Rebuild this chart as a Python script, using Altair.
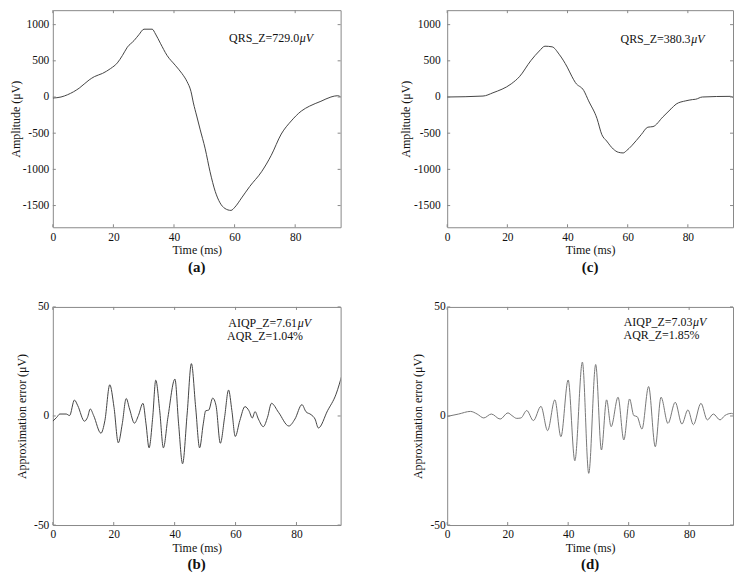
import altair as alt
import pandas as pd

FONT = "Liberation Serif"
BOX = "#888888"
INK = "#111111"

# ---------------- data ----------------
x_ticks = [0, 20, 40, 60, 80]
amp_ticks = [1000, 500, 0, -500, -1000, -1500]
err_ticks = [50, 0, -50]

# (a) QRS, lead Z
a_t = [0, 2.7, 4.9, 8.7, 12.0, 13.7, 16.4, 19.1, 21.3, 23.0, 24.6, 26.8, 28.4, 30.1,
       32.8, 33.9, 35.5, 37.7, 40.4, 42.6, 44.3, 45.6, 46.4, 47.5, 48.6, 50.3, 51.9,
       53.6, 55.2, 56.8, 58.8, 60.1, 62.3, 65.0, 68.9, 72.1, 75.4, 78.7, 82.0, 84.7,
       88.5, 91.8, 94.0, 95.0]
a_v = [-14, 0, 32, 122, 236, 281, 326, 394, 471, 575, 688, 779, 860, 937,
       937, 870, 743, 575, 439, 326, 213, 77, -82, -263, -444, -716, -1033,
       -1304, -1463, -1540, -1567, -1522, -1395, -1236, -1033, -806, -512, -331, -195, -127,
       -59, 0, 18, 2]

# (c) QRS, lead Z (second beat)
c_t = [0, 11.9, 15.2, 21.3, 24.0, 27.8, 30.6, 32.5, 34.9, 37.2, 39.9, 41.5, 42.6, 45.4,
       47.0, 49.8, 51.4, 53.0, 55.2, 56.9, 58.5, 59.6, 61.3, 64.5, 66.7, 68.4, 71.7,
       74.4, 76.1, 79.3, 81.5, 82.6, 84.8, 94.1, 95.0]
c_v = [0, 13, 58, 182, 280, 502, 635, 702, 693, 591, 413, 280, 200, 89,
       -53, -298, -520, -608, -719, -764, -773, -742, -675, -520, -417, -409, -275,
       -164, -98, -53, -36, -31, 0, 9, -5]

# (b) approximation error for (a)
b_t = [0.0, 1.3, 2.3, 4.4, 5.5, 7.1, 8.2, 10.4, 11.4, 12.3, 13.4, 15.8, 17.1, 18.7,
       20.1, 21.5, 22.8, 24.1, 25.2, 26.8, 28.1, 29.6, 30.6, 31.6, 32.8, 33.8, 35.1,
       36.3, 37.8, 40.1, 41.3, 42.6, 44.1, 45.5, 46.9, 48.2, 49.4, 50.2, 51.2, 52.5,
       53.6, 55.0, 56.4, 57.7, 58.8, 59.9, 61.4, 63.1, 64.4, 65.5, 66.4, 67.5, 69.1,
       70.5, 71.8, 74.1, 77.5, 79.5, 81.8, 83.1, 84.8, 86.1, 87.2, 90.2, 93.0, 95.0]
b_v = [-2.4, -0.6, 0.9, 0.9, 0.2, 7.3, 4.7, -2.4, -0.6, 3.2, 0.2, -7.9, -2.1, 14.3,
       3.9, -12.3, -3.6, 8.0, 3.2, -3.3, 0.2, 5.8, -3.6, -14.6, -0.6, 16.4, 2.4,
       -14.6, -0.6, 16.9, -3.6, -21.9, 0.9, 24.0, 4.0, -14.6, -3.6, 2.4, 2.7, 8.2,
       4.7, -12.5, -0.6, 11.9, 2.4, -9.4, -2.1, 4.3, 2.4, -0.9, 2.0, -1.4, -4.9,
       -0.6, 5.8, 1.7, -4.6, -1.4, 5.2, 2.0, 0.6, -1.4, -5.5, 2.4, 10.0, 19.1]

# (d) approximation error for (c)
d_t = [0.0, 3.8, 7.7, 9.9, 12.1, 14.6, 17.5, 20.1, 21.4, 23.0, 24.4, 26.3, 28.5, 31.0,
       33.2, 35.6, 37.6, 40.0, 42.2, 44.7, 46.8, 49.1, 51.0, 52.7, 54.2, 56.5, 58.4,
       60.3, 61.7, 62.8, 64.4, 66.6, 68.8, 70.7, 73.0, 75.4, 77.6, 79.6, 81.4, 83.9,
       86.0, 88.0, 90.2, 91.8, 94.0, 94.5]
d_v = [-0.2, 0.9, 2.1, 0.9, -0.9, 0.9, -1.4, 1.4, 0.2, -1.1, -0.9, 2.5, -2.1, 4.4,
       -6.7, 7.4, -9.5, 16.5, -20.5, 24.7, -26.3, 23.6, -15.6, 7.4, -4.9, 8.6, -11.0,
       7.8, 0.2, -0.3, -6.0, 13.5, -14.1, 8.6, -3.4, 6.3, -3.7, 2.8, -4.0, 5.8,
       -1.8, 0.9, -1.8, 0.2, 1.2, 0.9]

# annotations: text, x (ms), y (value), align, style
a_notes = [("QRS_Z=729.0", 81.3, 819, "right", "normal"), ("μV", 81.5, 819, "left", "italic")]
c_notes = [("QRS_Z=380.3", 80.9, 808, "right", "normal"), ("μV", 81.1, 808, "left", "italic")]
b_notes = [("AIQP_Z=7.61", 80.2, 42.7, "right", "normal"), ("μV", 80.4, 42.7, "left", "italic"),
           ("AQR_Z=1.04%", 57.2, 36.6, "left", "normal")]
d_notes = [("AIQP_Z=7.03", 81.1, 43.1, "right", "normal"), ("μV", 81.3, 43.1, "left", "italic"),
           ("AQR_Z=1.85%", 58.3, 37.0, "left", "normal")]


def panel(t, v, xdom, ydom, yticks, ytitle, notes, caption, w, h, color,
          ylab_pad, ytitle_pad):
    xs = alt.Scale(domain=xdom, nice=False, zero=False)
    ys = alt.Scale(domain=ydom, nice=False, zero=False)
    df = pd.DataFrame({"t": t, "v": v})
    line = alt.Chart(df).mark_line(color=color, strokeWidth=1, interpolate="monotone",
                                   clip=True).encode(
        x=alt.X("t:Q", scale=xs,
                axis=alt.Axis(values=x_ticks, title="Time (ms)", labelPadding=4,
                              titlePadding=2, labelFlush=False, labelOverlap=False)),
        y=alt.Y("v:Q", scale=ys,
                axis=alt.Axis(values=yticks, title=ytitle, labelPadding=ylab_pad,
                              titlePadding=ytitle_pad, labelFlush=False, labelOverlap=False,
                              labelExpr="'' + datum.value")),
    )
    xt = pd.DataFrame({"t": x_ticks})
    yt = pd.DataFrame({"v": yticks})
    tick_style = dict(color=BOX, strokeWidth=1)
    xbot = alt.Chart(xt).mark_rule(**tick_style).encode(
        x=alt.X("t:Q", scale=xs), y=alt.value(h), y2=alt.value(h - 3))
    xtop = alt.Chart(xt).mark_rule(**tick_style).encode(
        x=alt.X("t:Q", scale=xs), y=alt.value(0), y2=alt.value(3))
    yleft = alt.Chart(yt).mark_rule(**tick_style).encode(
        y=alt.Y("v:Q", scale=ys), x=alt.value(0), x2=alt.value(3))
    yright = alt.Chart(yt).mark_rule(**tick_style).encode(
        y=alt.Y("v:Q", scale=ys), x=alt.value(w - 3), x2=alt.value(w))
    layers = [line, xbot, xtop, yleft, yright]
    for text, nx, ny, align, style in notes:
        nd = pd.DataFrame({"t": [nx], "v": [ny], "label": [text]})
        layers.append(
            alt.Chart(nd).mark_text(align=align, baseline="middle", font=FONT, fontSize=12,
                                    fontStyle=style, color=INK).encode(
                x=alt.X("t:Q", scale=xs),
                y=alt.Y("v:Q", scale=ys),
                text="label:N"))
    return alt.layer(*layers).properties(
        width=w, height=h,
        title=alt.TitleParams(caption, orient="bottom", anchor="middle", offset=4,
                              font=FONT, fontSize=15, fontWeight="bold", color=INK))


pa = panel(a_t, a_v, [0, 95], [-1800, 1200], amp_ticks, "Amplitude (μV)", a_notes, "(a)",
           289, 218, "#444444", 4, 0)
pc = panel(c_t, c_v, [0, 95], [-1800, 1200], amp_ticks, "Amplitude (μV)", c_notes, "(c)",
           287, 218, "#444444", 7, 1)
pb = panel(b_t, b_v, [0, 94.5], [-50, 50], err_ticks, "Approximation error (μV)", b_notes, "(b)",
           289, 219, "#444444", 4, 5)
pd_ = panel(d_t, d_v, [0, 94.5], [-50, 50], err_ticks, "Approximation error (μV)", d_notes, "(d)",
            287, 219, "#777777", 2, 5)

chart = alt.concat(pa, pc, pb, pd_, columns=2).properties(
    spacing={"row": 80, "column": 107},
    bounds="flush",
    padding=0,
    background="white",
).configure_view(
    stroke=BOX, strokeWidth=1
).configure_axis(
    labelFont=FONT, titleFont=FONT, labelFontSize=11.5, titleFontSize=12,
    labelColor=INK, titleColor=INK, titleFontWeight="normal",
    ticks=False, domain=False, grid=False,
)

chart.save("out.html", embed_options={"renderer": "svg", "actions": False})
